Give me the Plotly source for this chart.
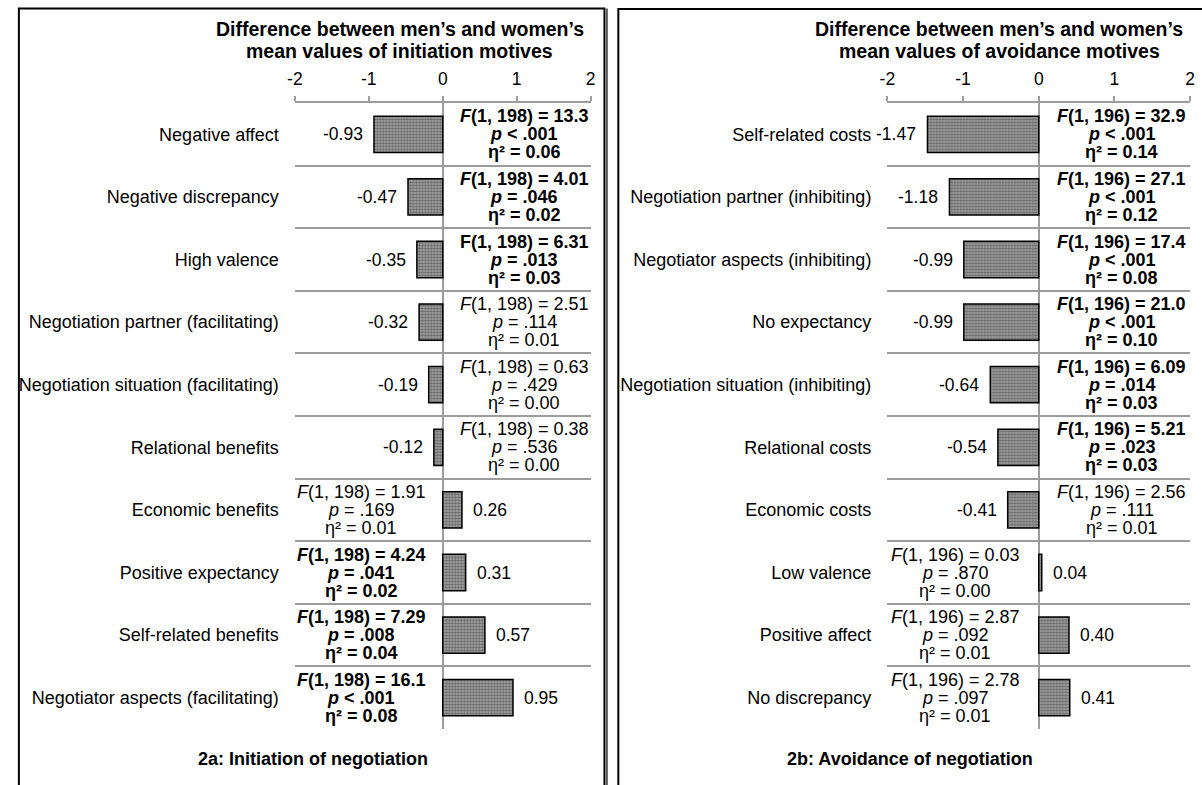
import plotly.graph_objects as go

# ---------------- data ----------------
cats_a = ["Negative affect", "Negative discrepancy", "High valence",
          "Negotiation partner (facilitating)", "Negotiation situation (facilitating)",
          "Relational benefits", "Economic benefits", "Positive expectancy",
          "Self-related benefits", "Negotiator aspects (facilitating)"]
vals_a = [-0.93, -0.47, -0.35, -0.32, -0.19, -0.12, 0.26, 0.31, 0.57, 0.95]
fstat_a = ["13.3", "4.01", "6.31", "2.51", "0.63", "0.38", "1.91", "4.24", "7.29", "16.1"]
pval_a = ["< .001", "= .046", "= .013", "= .114", "= .429", "= .536", "= .169", "= .041", "= .008", "< .001"]
eta_a = ["0.06", "0.02", "0.03", "0.01", "0.00", "0.00", "0.01", "0.02", "0.04", "0.08"]
sig_a = [True, True, True, False, False, False, False, True, True, True]
fital_a = [True, True, False, True, True, True, True, True, True, True]
df_a = "1, 198"

cats_b = ["Self-related costs", "Negotiation partner (inhibiting)",
          "Negotiator aspects (inhibiting)", "No expectancy",
          "Negotiation situation (inhibiting)", "Relational costs", "Economic costs",
          "Low valence", "Positive affect", "No discrepancy"]
vals_b = [-1.47, -1.18, -0.99, -0.99, -0.64, -0.54, -0.41, 0.04, 0.40, 0.41]
fstat_b = ["32.9", "27.1", "17.4", "21.0", "6.09", "5.21", "2.56", "0.03", "2.87", "2.78"]
pval_b = ["< .001", "< .001", "< .001", "< .001", "= .014", "= .023", "= .111", "= .870", "= .092", "= .097"]
eta_b = ["0.14", "0.12", "0.08", "0.10", "0.03", "0.03", "0.01", "0.00", "0.01", "0.01"]
sig_b = [True, True, True, True, True, True, False, False, False, False]
fital_b = [True] * 10
df_b = "1, 196"

tick_vals = [-2, -1, 0, 1, 2]
tick_text = ["-2", "-1", "0", "1", "2"]

titles = [["Difference between men\u2019s and women\u2019s", "mean values of initiation motives"],
          ["Difference between men\u2019s and women\u2019s", "mean values of avoidance motives"]]
captions = ["2a: Initiation of negotiation", "2b: Avoidance of negotiation"]

# ---------------- layout helpers ----------------
W, H = 1202, 785
FONT = "Liberation Sans, Arial, sans-serif"
GRID = "#9c9c9c"

def px_x(p):
    return p / W

def px_y(p):
    return 1 - p / H

ydom = [px_y(729), px_y(103)]
xdoms = [[px_x(290), px_x(589)], [px_x(889), px_x(1195)]]

fig = go.Figure()
annotations = []

panels = [
    (cats_a, vals_a, fstat_a, pval_a, eta_a, sig_a, fital_a, df_a),
    (cats_b, vals_b, fstat_b, pval_b, eta_b, sig_b, fital_b, df_b),
]

for i, (cats, vals, fs, ps, es, sig, fit, df) in enumerate(panels):
    xa = "x" if i == 0 else "x2"
    ya = "y" if i == 0 else "y2"
    fig.add_trace(go.Bar(
        x=vals, y=cats, orientation="h", xaxis=xa, yaxis=ya, width=0.58,
        marker=dict(color="#a0a0a0",
                    line=dict(color="black", width=1.5),
                    pattern=dict(shape=".", size=3, solidity=0.55,
                                 fgcolor="#2e2e2e", bgcolor="#a8a8a8")),
        hoverinfo="skip", showlegend=False))

    for c, v, f, p, e, s, it in zip(cats, vals, fs, ps, es, sig, fit):
        # value label next to the bar
        annotations.append(dict(
            x=v, y=c, xref=xa, yref=ya, text=f"{v:.2f}",
            xanchor="right" if v < 0 else "left",
            xshift=-9 if v < 0 else 9, showarrow=False,
            font=dict(family=FONT, size=17.5, color="black")))
        # statistics block on the opposite side of zero
        sx = 1.1 if v < 0 else -1.1
        ftxt = "<i>F</i>" if it else "F"
        lines = [f"{ftxt}({df}) = {f}", f"<i>p</i> {p}", f"\u03b7\u00b2 = {e}"]
        for k, ln in enumerate(lines):
            txt = f"<b>{ln}</b>" if s else ln
            annotations.append(dict(
                x=sx, y=c, xref=xa, yref=ya, text=txt, xanchor="center",
                yanchor="middle", yshift=18 - 18 * k, showarrow=False,
                font=dict(family=FONT, size=18, color="black")))

# titles
title_cx = [396, 1002]
for i in range(2):
    annotations.append(dict(x=px_x(title_cx[i]), y=px_y(29), xref="paper", yref="paper",
                            text=f"<b>{titles[i][0]}</b>", showarrow=False,
                            xanchor="center", yanchor="middle",
                            font=dict(family=FONT, size=19.5, color="black")))
    annotations.append(dict(x=px_x(title_cx[i]), y=px_y(51), xref="paper", yref="paper",
                            text=f"<b>{titles[i][1]}</b>", showarrow=False,
                            xanchor="center", yanchor="middle",
                            font=dict(family=FONT, size=19.5, color="black")))
# captions
cap_cx = [308, 912]
for i in range(2):
    annotations.append(dict(x=px_x(cap_cx[i]), y=px_y(759), xref="paper", yref="paper",
                            text=f"<b>{captions[i]}</b>", showarrow=False,
                            xanchor="center", yanchor="middle",
                            font=dict(family=FONT, size=18, color="black")))

xaxis_common = dict(range=[-2, 2], side="top", tickmode="array", tickvals=tick_vals,
                    ticktext=tick_text, ticks="outside", ticklen=5, tickwidth=1.5,
                    tickcolor=GRID, showline=True, linecolor=GRID, linewidth=1.5,
                    zeroline=True, zerolinecolor=GRID, zerolinewidth=1.5,
                    showgrid=False, fixedrange=True, ticklabelstandoff=4,
                    tickfont=dict(family=FONT, size=17.5, color="black"))
yaxis_common = dict(type="category", autorange="reversed", tickson="boundaries",
                    ticks="", showgrid=True, gridcolor=GRID, gridwidth=1.5,
                    showline=False, zeroline=False, fixedrange=True,
                    ticklabelstandoff=15,
                    tickfont=dict(family=FONT, size=18, color="black"))

shapes = [
    dict(type="rect", xref="paper", yref="paper", x0=px_x(11), x1=px_x(603),
         y0=px_y(800), y1=px_y(8.5), line=dict(color="black", width=2)),
    dict(type="line", xref="paper", yref="paper", x0=px_x(605.5), x1=px_x(605.5),
         y0=px_y(800), y1=px_y(8.5), line=dict(color="black", width=1.2)),
    dict(type="rect", xref="paper", yref="paper", x0=px_x(617), x1=px_x(1215),
         y0=px_y(800), y1=px_y(9), line=dict(color="black", width=2)),
]

fig.update_layout(
    width=W, height=H, margin=dict(l=0, r=0, t=0, b=0),
    paper_bgcolor="white", plot_bgcolor="white",
    xaxis=dict(domain=xdoms[0], anchor="y", **xaxis_common),
    yaxis=dict(domain=ydom, anchor="x", **yaxis_common),
    xaxis2=dict(domain=xdoms[1], anchor="y2", **xaxis_common),
    yaxis2=dict(domain=ydom, anchor="x2", **yaxis_common),
    annotations=annotations, shapes=shapes, bargap=0.42,
    font=dict(family=FONT, color="black"),
)

fig.write_html("out.html", config={"displayModeBar": False},
               post_script="document.body.style.margin='0';document.body.style.overflow='hidden';")
